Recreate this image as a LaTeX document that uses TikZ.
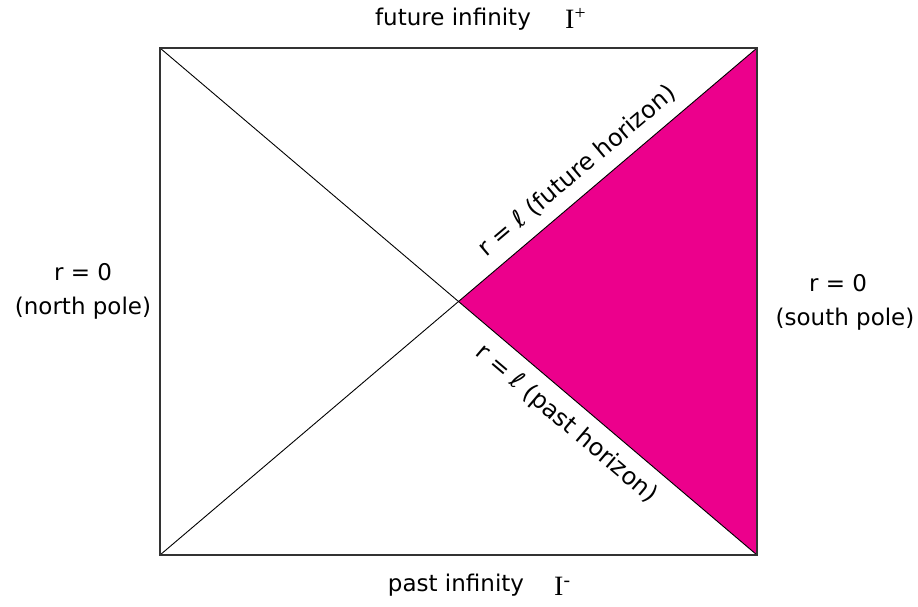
\documentclass[tikz,border=0pt]{standalone}
\usepackage{fontspec}
\setmainfont{DejaVu Sans}
\newfontfamily\seriffont{Liberation Serif}
\definecolor{regmag}{HTML}{EC008C}
\begin{document}
\begin{tikzpicture}[x=1pt,y=-1pt,
  lbl/.style={inner sep=0pt, font=\fontsize{23}{28}\selectfont},
  rlbl/.style={inner sep=0pt, font=\fontsize{24}{28}\selectfont},
  edge/.style={draw=black, line width=0.9pt}]
\useasboundingbox (0,0) rectangle (918,606);
\coordinate (TL) at (160,48);
\coordinate (TR) at (757,48);
\coordinate (BL) at (160,555);
\coordinate (BR) at (757,555);
\coordinate (C) at (458.5,301.5);
\fill[regmag] (C) -- (TR) -- (BR) -- cycle;
\draw[edge] (TL) -- (BR);
\draw[edge] (TR) -- (BL);
\draw[edge, draw=black!80, line width=1.2pt] (TL) rectangle (BR);
\node[lbl] (fut) at (453,19) {future infinity};
\node[lbl, anchor=west] (Ip) at (565,18) {\seriffont\fontsize{28}{30}\selectfont I\textsuperscript{+}};
\node[lbl] (past) at (456,585) {past infinity};
\node[lbl, anchor=west] (Im) at (554,586) {\seriffont\fontsize{28}{30}\selectfont I\textsuperscript{-}};
\node[lbl] (rl) at (83,272) {r = 0};
\node[lbl] (np) at (83,308) {(north pole)};
\node[lbl] (rr) at (838,283) {r = 0};
\node[lbl] (sp) at (845,319) {(south pole)};
\node[rlbl, rotate=40.3] (fh) at (577,171) {r = ℓ (future horizon)};
\node[rlbl, rotate=-40.3] (ph) at (566,424) {r = ℓ (past horizon)};
\end{tikzpicture}
\end{document}
